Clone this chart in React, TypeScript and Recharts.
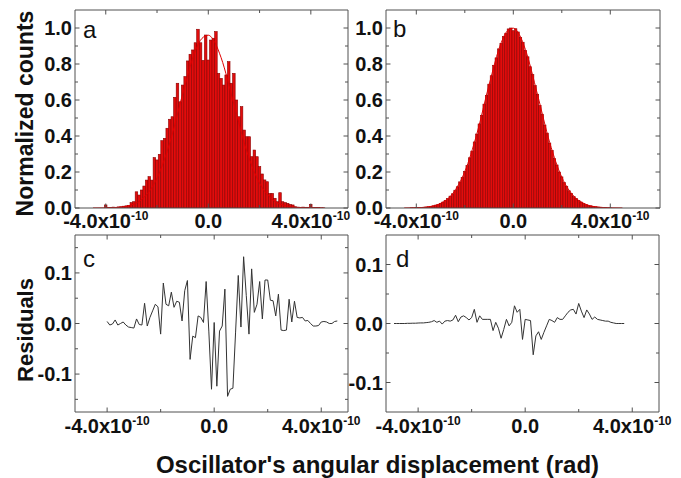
import { ComposedChart, LineChart, Bar, Line, XAxis, YAxis } from 'recharts'

const W = 681
const H = 478
const FONT = '"Liberation Sans", Arial, Helvetica, sans-serif'
const AXIS = '#505050'
const BAR_FILL = '#e20c0c'
const BAR_EDGE = '#8c0000'
const FIT = '#e00000'
const RES = '#333333'
const TICK_FONT = 20

// all x values in units of 1e-10 rad
const X_TICKS = [-4, -2, 0, 2, 4]
const X_MAJOR = [-4, 0, 4]

// panel a: histogram, bins of 0.1 starting at -4.0
const startA = -4.0
const countsA = [
  0.017, 0.002, 0.003, 0.005, 0.004, 0.006, 0.007, 0.01, 0.012, 0.015,
  0.03, 0.035, 0.09, 0.072, 0.1, 0.122, 0.155, 0.174, 0.155, 0.28,
  0.267, 0.298, 0.374, 0.387, 0.443, 0.493, 0.507, 0.615, 0.693, 0.59,
  0.683, 0.73, 0.817, 0.854, 0.878, 0.918, 0.993, 0.918, 0.82, 0.961,
  0.822, 0.933, 0.943, 0.98, 0.748, 0.72, 0.683, 0.739, 0.813, 0.693,
  0.748, 0.6, 0.507, 0.563, 0.433, 0.396, 0.396, 0.285, 0.322, 0.285,
  0.23, 0.189, 0.156, 0.146, 0.081, 0.081, 0.054, 0.035, 0.085, 0.035,
  0.03, 0.026, 0.02, 0.017, 0.007, 0.005, 0.004, 0.005, 0.004, 0.004,
  0.02, 0.003, 0.002, 0.002, 0.001, 0.001,
]
const fitAx = [-4.5, -4, -3.5, -3, -2.5, -2, -1.5, -1, -0.5, -0.25, 0, 0.25, 0.5, 1, 1.5, 2, 2.5, 3, 3.5, 4, 4.5]
const fitAy = [0.0001, 0.0007, 0.0039, 0.017, 0.06, 0.166, 0.363, 0.633, 0.875, 0.942, 0.96, 0.921, 0.835, 0.577, 0.316, 0.138, 0.0475, 0.013, 0.0028, 0.0005, 0.0001]

// panel b: histogram, bins of 0.1 starting at -4.2
const startB = -4.2
const countsB = [
  0.001, 0.001, 0.002, 0.002, 0.003, 0.004, 0.005, 0.007, 0.009, 0.012,
  0.016, 0.02, 0.026, 0.033, 0.042, 0.052, 0.066, 0.079, 0.099, 0.118,
  0.145, 0.17, 0.204, 0.236, 0.279, 0.316, 0.367, 0.411, 0.467, 0.515,
  0.577, 0.626, 0.688, 0.735, 0.793, 0.834, 0.884, 0.915, 0.953, 0.971,
  0.995, 1.0, 0.985, 0.996, 0.978, 0.947, 0.921, 0.876, 0.84, 0.785,
  0.741, 0.68, 0.632, 0.57, 0.521, 0.461, 0.416, 0.361, 0.32, 0.274,
  0.239, 0.2, 0.173, 0.141, 0.121, 0.096, 0.081, 0.064, 0.053, 0.041,
  0.033, 0.025, 0.02, 0.015, 0.012, 0.009, 0.007, 0.005, 0.004, 0.003,
  0.002, 0.001, 0.001,
]
const fitBx = [-4.5, -4, -3.5, -3, -2.5, -2, -1.5, -1, -0.5, -0.25, 0, 0.25, 0.5, 1, 1.5, 2, 2.5, 3, 3.5, 4, 4.5]
const fitBy = [0.0002, 0.0014, 0.0067, 0.0257, 0.08, 0.202, 0.413, 0.684, 0.918, 0.983, 0.999, 0.963, 0.88, 0.629, 0.364, 0.171, 0.065, 0.02, 0.005, 0.001, 0.0002]

// panel c: residuals, step 0.1 starting at -4.0
const startC = -4.0
const residC = [
  0.004, -0.003, -0.001, 0.007, -0.003, 0.0, 0.003, -0.003, -0.007, -0.008,
  -0.009, 0.009, -0.002, -0.003, 0.04, -0.005, 0.012, 0.025, 0.038, 0.033,
  -0.021, 0.08, 0.038, 0.035, 0.062, 0.032, 0.044, 0.042, 0.005, 0.065,
  0.085, -0.071, -0.025, -0.028, 0.015, 0.012, 0.002, 0.083, -0.015, -0.13,
  0.002, -0.124, -0.015, -0.005, 0.068, -0.144, -0.13, -0.128, -0.017, 0.095,
  -0.007, 0.132, 0.055, -0.021, 0.108, 0.022, 0.038, 0.083, 0.009, 0.086,
  0.086, 0.046, 0.045, 0.015, 0.058, -0.013, -0.014, -0.013, 0.048, 0.003,
  0.044, 0.012, 0.011, 0.012, 0.005, 0.006, 0.0, -0.005, -0.005, -0.004,
  0.003, 0.004, 0.003, 0.0, 0.0, 0.004, 0.005,
]

// panel d: residuals, step 0.1 starting at -4.9
const startD = -4.9
const residD = [
  0, 0, 0, 0, 0, 0.0003, 0.0003, 0.0005, 0.0005, 0.0008,
  0.001, 0.001, 0.0015, 0.002, 0.003, 0.005, 0.002, 0.004, -0.001, 0.004,
  0.005, 0.004, 0.006, 0.014, 0.003, 0.011, 0.013, 0.01, 0.006, 0.01,
  0.024, 0.002, 0.013, 0.007, 0.007, 0.007, 0.007, -0.012, 0.002, -0.008,
  -0.025, -0.01, 0.007, -0.004, 0.002, 0.03, 0.019, 0.024, -0.027, 0.007,
  0.006, 0.005, -0.053, -0.021, -0.014, -0.027, -0.015, -0.004, 0.007, 0.005,
  0.002, 0.01, 0.007, 0.007, 0.013, 0.019, 0.023, 0.024, 0.016, 0.034,
  0.021, 0.01, 0.023, 0.016, 0.007, 0.011, 0.007, 0.006, 0.005, 0.004,
  0.004, 0.002, 0.001, 0, 0, 0, 0,
]

const Y_HIST = [0, 0.1, 0.2, 0.3, 0.4, 0.5, 0.6, 0.7, 0.8, 0.9, 1.0]
const Y_HIST_MAJOR = [0, 0.2, 0.4, 0.6, 0.8, 1.0]
const Y_RES_C = [-0.15, -0.1, -0.05, 0, 0.05, 0.1, 0.15]
const Y_RES_D = [-0.1, -0.05, 0, 0.05, 0.1]
const Y_RES_MAJOR = [-0.1, 0, 0.1]

type Box = { left: number; top: number; right: number; bottom: number }

const boxA: Box = { left: 75, top: 10, right: 348, bottom: 208 }
const boxB: Box = { left: 386, top: 10, right: 660, bottom: 208 }
const boxC: Box = { left: 75, top: 235, right: 348, bottom: 412 }
const boxD: Box = { left: 386, top: 235, right: 659, bottom: 412 }

// axes are 1px thick boxes, so the plot rect sits 1px inside the margin
const marginOf = (b: Box) => ({ left: b.left - 1, top: b.top - 1, right: W - b.right - 1, bottom: H - b.bottom - 1 })
const near = (a: number, b: number) => Math.abs(a - b) < 1e-6
const isMajor = (majors: number[], v: number) => majors.some((m) => near(m, v))
const grid = (start: number, n: number) => Array.from({ length: n }, (_, i) => Math.round((start + i * 0.1) * 10) / 10)

function PowerLabel({ x, y, v }: { x: number; y: number; v: number }) {
  const common = { fontFamily: FONT, fontWeight: 'bold' as const, fill: '#111' }
  if (near(v, 0)) {
    return (
      <text x={x} y={y} textAnchor="middle" fontSize={TICK_FONT} {...common}>
        0.0
      </text>
    )
  }
  return (
    <text x={x} y={y} textAnchor="middle" fontSize={TICK_FONT} {...common}>
      {v.toFixed(1)}x10
      <tspan dy={-8.5} fontSize={12}>
        -10
      </tspan>
    </text>
  )
}

const bottomTick = (labelDy: number) => (p: any) => {
  const major = isMajor(X_MAJOR, p.payload.value)
  return (
    <g>
      <line x1={p.x} x2={p.x} y1={p.y} y2={p.y - (major ? 4.5 : 3)} stroke={AXIS} />
      {major && <PowerLabel x={p.x} y={p.y + labelDy} v={p.payload.value} />}
    </g>
  )
}

const topTick = (p: any) => {
  const major = isMajor(X_MAJOR, p.payload.value)
  return <line x1={p.x} x2={p.x} y1={p.y} y2={p.y + (major ? 4.5 : 3)} stroke={AXIS} />
}

const leftTick = (majors: number[]) => (p: any) => {
  const v = p.payload.value
  const major = isMajor(majors, v)
  return (
    <g>
      <line x1={p.x} x2={p.x + (major ? 4.5 : 3)} y1={p.y} y2={p.y} stroke={AXIS} />
      {major && (
        <text x={p.x - 3} y={p.y + 7} textAnchor="end" fontSize={TICK_FONT} fontFamily={FONT} fontWeight="bold" fill="#111">
          {near(v, 0) ? '0.0' : v.toFixed(1)}
        </text>
      )}
    </g>
  )
}

const rightTick = (majors: number[]) => (p: any) => {
  const major = isMajor(majors, p.payload.value)
  return <line x1={p.x} x2={p.x - (major ? 4.5 : 3)} y1={p.y} y2={p.y} stroke={AXIS} />
}

function Frame({ xDomain, yDomain, yTicks, yMajor, labelDy }: any) {
  return [
    <XAxis
      key="xb"
      dataKey="x"
      type="number"
      domain={xDomain}
      allowDataOverflow
      ticks={X_TICKS}
      interval={0}
      height={1}
      tickSize={0}
      tickMargin={0}
      tickLine={false}
      stroke={AXIS}
      tick={bottomTick(labelDy)}
    />,
    <XAxis
      key="xt"
      xAxisId="top"
      orientation="top"
      dataKey="x"
      type="number"
      domain={xDomain}
      allowDataOverflow
      ticks={X_TICKS}
      interval={0}
      height={1}
      tickSize={0}
      tickMargin={0}
      tickLine={false}
      stroke={AXIS}
      tick={topTick}
    />,
    <YAxis
      key="yl"
      type="number"
      domain={yDomain}
      allowDataOverflow
      ticks={yTicks}
      interval={0}
      width={1}
      tickSize={0}
      tickMargin={0}
      tickLine={false}
      stroke={AXIS}
      tick={leftTick(yMajor)}
    />,
    <YAxis
      key="yr"
      yAxisId="right"
      orientation="right"
      type="number"
      domain={yDomain}
      allowDataOverflow
      ticks={yTicks}
      interval={0}
      width={1}
      tickSize={0}
      tickMargin={0}
      tickLine={false}
      stroke={AXIS}
      tick={rightTick(yMajor)}
    />,
  ]
}

function HistPanel({ box, xDomain, start, counts, fitX, fitY }: any) {
  const xs = grid(start, counts.length)
  const data = counts.map((c: number, i: number) => ({ x: xs[i], c }))
  const fit = fitX.map((x: number, i: number) => ({ x, f: fitY[i] }))
  const binPx = (0.1 / (xDomain[1] - xDomain[0])) * (box.right - box.left)
  const shape = (p: any) => {
    const cx = p.x + p.width / 2
    return (
      <rect
        x={cx - binPx / 2}
        y={p.y}
        width={binPx}
        height={Math.max(p.height, 0)}
        fill={BAR_FILL}
        stroke={BAR_EDGE}
        strokeWidth={0.6}
      />
    )
  }
  return (
    <div style={{ position: 'absolute', left: 0, top: 0 }}>
      <ComposedChart width={W} height={H} data={data} margin={marginOf(box)}>
        {Frame({ xDomain, yDomain: [0, 1.1], yTicks: Y_HIST, yMajor: Y_HIST_MAJOR, labelDy: 20 })}
        <Bar dataKey="c" barSize={binPx} shape={shape} isAnimationActive={false} />
        <Line data={fit} dataKey="f" type="monotone" stroke={FIT} strokeWidth={1} dot={false} isAnimationActive={false} />
      </ComposedChart>
    </div>
  )
}

function ResPanel({ box, xDomain, yDomain, yTicks, start, values }: any) {
  const xs = grid(start, values.length)
  const data = values.map((r: number, i: number) => ({ x: xs[i], r }))
  return (
    <div style={{ position: 'absolute', left: 0, top: 0 }}>
      <LineChart width={W} height={H} data={data} margin={marginOf(box)}>
        {Frame({ xDomain, yDomain, yTicks, yMajor: Y_RES_MAJOR, labelDy: 21 })}
        <Line dataKey="r" type="linear" stroke={RES} strokeWidth={1} dot={false} isAnimationActive={false} />
      </LineChart>
    </div>
  )
}

export default function App() {
  const letter = { fontFamily: FONT, fontSize: 24, fill: '#111' }
  const title = { fontFamily: FONT, fontWeight: 'bold' as const, fill: '#111' }
  return (
    <div style={{ position: 'absolute', left: 0, top: 0, width: W, height: H, background: '#fff', fontFamily: FONT }}>
      <HistPanel box={boxA} xDomain={[-5.2, 5.45]} start={startA} counts={countsA} fitX={fitAx} fitY={fitAy} />
      <HistPanel box={boxB} xDomain={[-5.25, 6.05]} start={startB} counts={countsB} fitX={fitBx} fitY={fitBy} />
      <ResPanel box={boxC} xDomain={[-5.2, 5.0]} yDomain={[-0.175, 0.175]} yTicks={Y_RES_C} start={startC} values={residC} />
      <ResPanel box={boxD} xDomain={[-5.2, 5.0]} yDomain={[-0.15, 0.15]} yTicks={Y_RES_D} start={startD} values={residD} />
      <svg width={W} height={H} style={{ position: 'absolute', left: 0, top: 0, pointerEvents: 'none' }}>
        <text x={83} y={38} {...letter}>a</text>
        <text x={393} y={37} {...letter}>b</text>
        <text x={83} y={267} {...letter}>c</text>
        <text x={396} y={267} {...letter}>d</text>
        <text transform="translate(33,113.5) rotate(-90)" textAnchor="middle" fontSize={23} {...title}>
          Normalized counts
        </text>
        <text transform="translate(33,330) rotate(-90)" textAnchor="middle" fontSize={22} {...title}>
          Residuals
        </text>
        <text x={377.5} y={473} textAnchor="middle" fontSize={24} {...title}>
          Oscillator's angular displacement (rad)
        </text>
      </svg>
    </div>
  )
}
